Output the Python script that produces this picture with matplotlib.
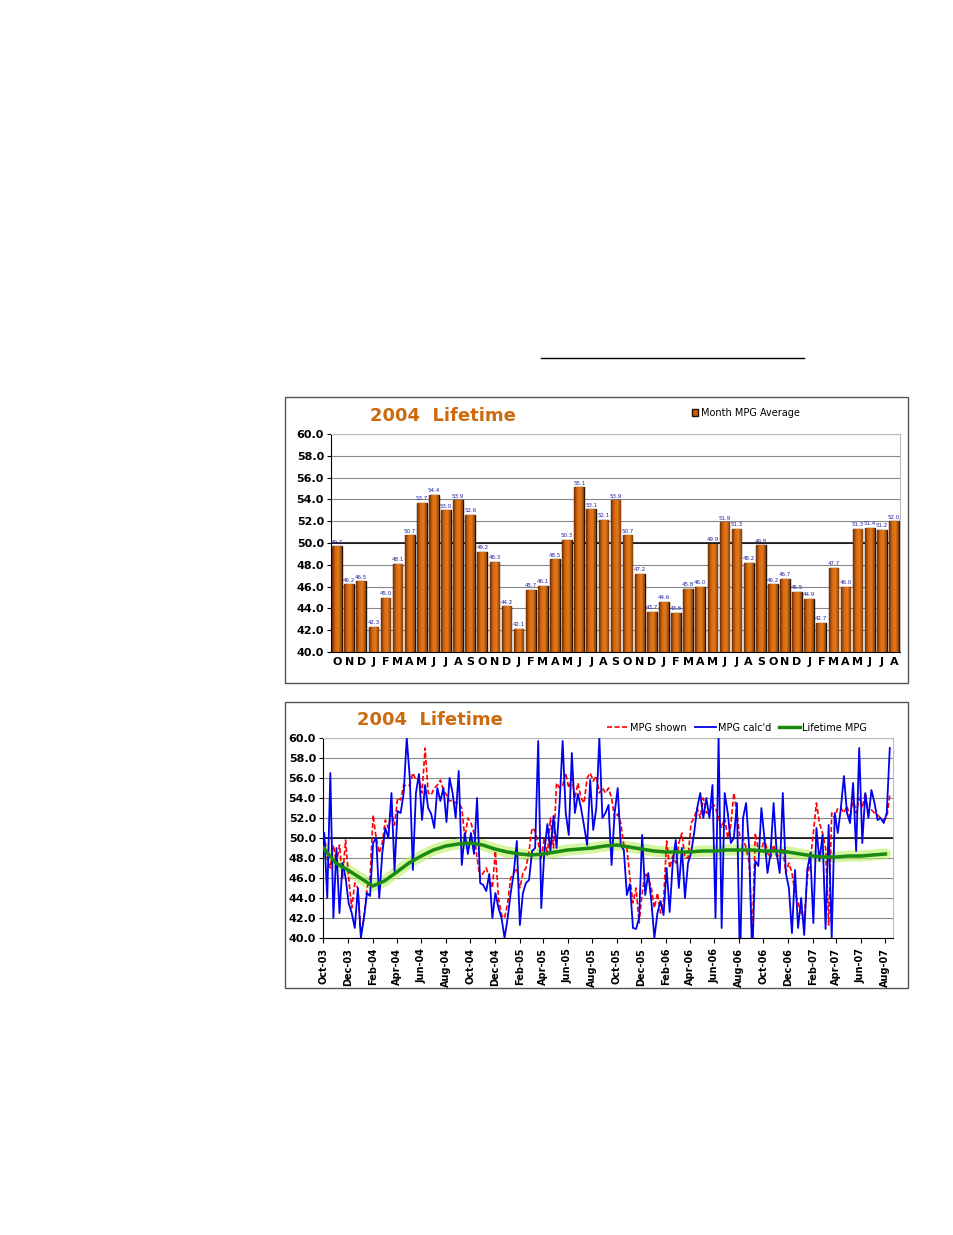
import numpy as np
import matplotlib
matplotlib.use("Agg")
import matplotlib.pyplot as plt
import matplotlib.dates as mdates
from matplotlib.patches import Rectangle
import datetime as dt

# monthly averages, Oct-03 .. Aug-07
month_letters = list("OND") + list("JFMAMJJASOND") * 3 + list("JFMAMJJA")
month_avg = [49.7, 46.2, 46.5,
             42.3, 45.0, 48.1, 50.7, 53.7, 54.4, 53.0, 53.9, 52.6, 49.2, 48.3, 44.2,
             42.1, 45.7, 46.1, 48.5, 50.3, 55.1, 53.1, 52.1, 53.9, 50.7, 47.2, 43.7,
             44.6, 43.6, 45.8, 46.0, 49.9, 51.9, 51.3, 48.2, 49.8, 46.2, 46.7, 45.5,
             44.9, 42.7, 47.7, 46.0, 51.3, 51.4, 51.2, 52.0]

# per fill-up values (about weekly)
mpg_calc = [50.5, 44, 56.5, 42, 49, 42.5, 47.5, 46, 43.5, 42.5, 41, 45,
            40, 42, 44.5, 44.2, 49.5, 50, 44, 48.5, 51, 50, 54.5, 46.7,
            52.7, 52.5, 54.5, 60, 56, 46.8, 54.5, 56.4, 51.8, 55.3, 53, 52.4,
            51, 55, 53.7, 55, 51.6, 56, 54.5, 52, 56.7, 47.3, 50.5, 48.4,
            50.5, 48.4, 54, 45.5, 45.3, 44.7, 46.4, 42, 44.5, 43, 42, 40,
            42, 44.5, 46.5, 49.7, 41.3, 44.5, 45.5, 45.8, 48.7, 49, 59.7, 43,
            48.6, 51.4, 48.7, 52.2, 49, 53.5, 59.7, 52.5, 50.3, 58.5, 52.5, 54.4,
            53, 51.2, 49.3, 55.8, 50.8, 53, 60, 52, 52.5, 53.3, 47.3, 52.5,
            55, 49.3, 48.8, 44.3, 45.4, 41, 40.9, 42, 50.3, 44.3, 46.5, 43.7,
            40, 42.5, 43.7, 42.3, 47, 42.6, 47.5, 49.8, 45, 49, 44, 47.5,
            48.5, 50.5, 53, 54.5, 52, 54, 52, 55.3, 42, 60, 41, 54.5,
            52.5, 49.5, 50, 53.5, 37, 52, 53.5, 49, 38, 47.7, 47.2, 53,
            50, 46.5, 48.5, 53.5, 48.5, 46.5, 54.5, 46.5, 45, 40.5, 46.8, 41,
            44, 40.3, 46.8, 48.5, 41.5, 51, 47.7, 50.3, 40.9, 51.3, 40, 52.5,
            50.5, 53, 56.2, 52.5, 51.5, 55.5, 48.7, 59, 49.5, 54.5, 52, 54.8,
            53.5, 51.8, 52, 51.5, 52.5, 59]
mpg_shown = [50.4, 48, 47, 49.3, 47.5, 49.3, 46, 49.8, 46, 43, 45.5, 45,
             40.3, 42, 45, 46, 52.3, 50, 48.5, 49.5, 51.8, 51, 52.5, 51.3,
             54, 53.8, 55.3, 55.2, 55.3, 56.5, 55.8, 56, 54.5, 59, 54.5, 54.3,
             55, 55.3, 55.8, 54.8, 54.3, 53.7, 53.8, 53.5, 53.5, 53, 50, 52,
             51.5, 50.5, 48, 46, 46.5, 47, 46, 45, 48.7, 44, 42.3, 42,
             43.5, 46, 46.5, 47, 45, 46.5, 47, 48.7, 51, 50.7, 49.5, 48,
             50, 48.3, 52, 49, 55.5, 55, 55.2, 56.5, 55, 56, 54, 55.5,
             54, 53.5, 56, 56.5, 55.7, 56.2, 54.5, 55, 54.5, 55, 54, 52,
             52.4, 51.5, 49.3, 49, 46, 43.5, 45, 41.5, 44.5, 46.5, 46, 45,
             43, 44.5, 42.5, 43.7, 49.7, 47, 48.2, 47.5, 49.5, 50.5, 48, 48,
             51.5, 52, 53, 52, 54, 52.5, 52.5, 53.5, 53, 52, 51, 52,
             50, 51.3, 54.5, 52.5, 50, 50, 49, 47.5, 40, 50.5, 48.8, 48.7,
             50, 48.5, 48, 49.3, 48.2, 48.3, 49, 46.5, 47.5, 46.5, 44.5, 43.5,
             42.5, 41.8, 46, 47.7, 50.5, 53.5, 51.5, 50.5, 49, 41.3, 52.5, 52,
             53, 53, 52.5, 53.2, 52, 54, 52.5, 54, 53, 54.5, 52.5, 52.8,
             52.5, 52.3, 52, 51.8, 52, 54.3]
# lifetime average at the start of each month, Oct-03 .. Aug-07
lifetime = [49, 47.5, 46.8, 46, 45.2, 45.7, 46.6, 47.5, 48.2, 48.8, 49.2, 49.4,
            49.5, 49.3, 48.9, 48.6, 48.4, 48.3, 48.4, 48.6, 48.8, 48.9, 49.0, 49.2,
            49.3, 49.1, 48.9, 48.7, 48.6, 48.6, 48.6, 48.7, 48.7, 48.8, 48.8, 48.8,
            48.7, 48.7, 48.6, 48.4, 48.2, 48.1, 48.1, 48.2, 48.2, 48.3, 48.4]

TITLE_COL = "#cc6a10"
W, H = 954, 1235
fig = plt.figure(figsize=(W / 100, H / 100), dpi=100)

def fr(x0, y0, x1, y1):
    return [x0 / W, 1 - y1 / H, (x1 - x0) / W, (y1 - y0) / H]

# page decorations: underline and chart frames
bg = fig.add_axes([0, 0, 1, 1])
bg.set_xlim(0, W); bg.set_ylim(H, 0); bg.axis("off")
bg.plot([541, 804], [358, 358], color="black", lw=1)
for y0 in (397, 702):
    bg.add_patch(Rectangle((285, y0), 623, 286, fill=False, ec="#555555", lw=1))

def style_y(ax):
    ax.set_ylim(40, 60)
    ax.set_yticks(np.arange(40, 61, 2))
    ax.set_yticklabels([f"{v:.1f}" for v in np.arange(40, 61, 2)], fontweight="bold", fontsize=8)
    ax.yaxis.grid(True, color="#888888", lw=0.8)
    ax.axhline(50, color="black", lw=1.1, zorder=1)
    ax.set_axisbelow(True)
    for s in ("top", "right"):
        ax.spines[s].set_color("#bbbbbb")
    ax.tick_params(axis="y", length=3, pad=2)

# ---- bar chart ----
ax1 = fig.add_axes(fr(331, 434, 900, 652))
n = len(month_avg)
xs = np.arange(n)
grad = np.linspace(0, 1, 64).reshape(1, -1)
cmap = matplotlib.colors.LinearSegmentedColormap.from_list("o", ["#6b2e05", "#d9690f", "#e07a1a", "#8a3c08"])
bars = ax1.bar(xs, month_avg, width=0.8, color="#c8600a", edgecolor="#2a1200", lw=1, zorder=2,
               label="Month MPG Average")
for b in bars:
    x0, w, h = b.get_x(), b.get_width(), b.get_height()
    im = ax1.imshow(grad, cmap=cmap, extent=[x0, x0 + w, 40, h], aspect="auto", zorder=2.5)
    im.set_clip_path(b)
    ax1.text(x0 + w / 2, h + 0.15, f"{h:.1f}", ha="center", va="bottom", fontsize=4, color="#2020a0")
ax1.set_xlim(-0.5, n - 0.5)
ax1.set_xticks(xs)
ax1.set_xticklabels(month_letters, fontweight="bold", fontsize=8)
ax1.tick_params(axis="x", length=0)
style_y(ax1)
ax1.legend(loc="upper right", bbox_to_anchor=(0.84, 1.16), frameon=False, fontsize=7,
           handlelength=0.7, handleheight=0.7, handletextpad=0.3)
fig.text(443 / W, 1 - 416 / H, "2004  Lifetime", ha="center", va="center",
         fontsize=13, fontweight="bold", color=TITLE_COL)

# ---- line chart ----
ax2 = fig.add_axes(fr(323, 738, 893, 938))
start = mdates.date2num(dt.date(2003, 10, 3))
end = mdates.date2num(dt.date(2007, 8, 12))
fill_dates = np.linspace(start, end, len(mpg_calc))
month_dates = [mdates.date2num(dt.date(2003 + (9 + i) // 12, (9 + i) % 12 + 1, 1)) for i in range(len(lifetime))]
ax2.plot(month_dates, lifetime, color="#b8f060", lw=8, alpha=0.6, zorder=2, solid_capstyle="round")
ax2.plot(fill_dates, mpg_shown, color="red", lw=1.2, ls=(0, (3, 1.5)), zorder=3, label="MPG shown")
ax2.plot(fill_dates, mpg_calc, color="#0000ee", lw=1.3, zorder=4, label="MPG calc'd")
ax2.plot(month_dates, lifetime, color="#1a8a10", lw=2.5, zorder=5, label="Lifetime MPG")
ticks = [mdates.date2num(dt.date(2003 + (9 + 2 * i) // 12, (9 + 2 * i) % 12 + 1, 1)) for i in range(24)]
ax2.set_xticks(ticks)
ax2.xaxis.set_major_formatter(mdates.DateFormatter("%b-%y"))
plt.setp(ax2.get_xticklabels(), rotation=90, fontweight="bold", fontsize=7)
ax2.set_xlim(start - 3, end + 8)
style_y(ax2)
ax2.legend(loc="upper right", bbox_to_anchor=(0.97, 1.12), ncol=3, frameon=False, fontsize=7,
           handlelength=2.2, columnspacing=0.8, handletextpad=0.2)
fig.text(430 / W, 1 - 720 / H, "2004  Lifetime", ha="center", va="center",
         fontsize=13, fontweight="bold", color=TITLE_COL)

fig.savefig("out.png", dpi=100)
